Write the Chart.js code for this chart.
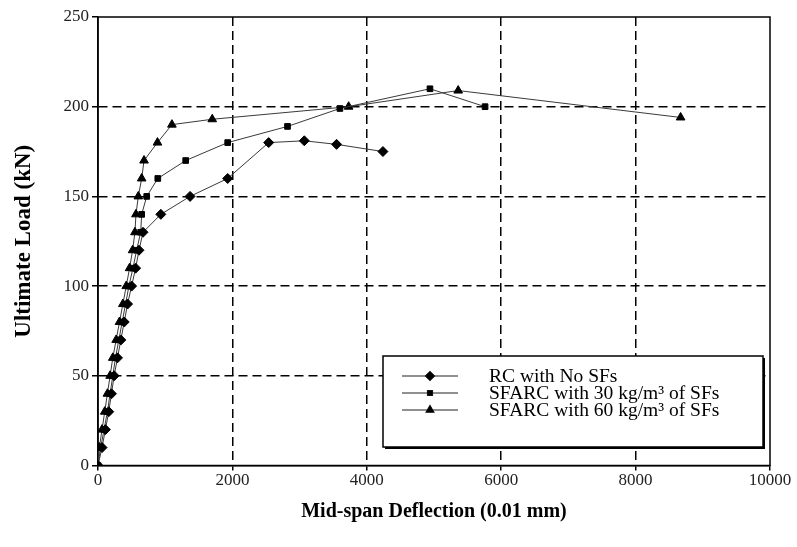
<!DOCTYPE html>
<html>
<head>
<meta charset="utf-8">
<script src="https://cdn.jsdelivr.net/npm/chart.js@4.4.1/dist/chart.umd.min.js"></script>
<style>
  html, body { margin: 0; padding: 0; background: #fff; }
  #wrap { width: 797px; height: 547px; }
</style>
</head>
<body>
<div id="wrap"><canvas id="chart" width="797" height="547"></canvas></div>
<script>
// ── Data (deflection in 0.01 mm, load in kN) ──────────────────────
const seriesNames = [
    'RC with No SFs',
    'SFARC with 30 kg/m³ of SFs',
    'SFARC with 60 kg/m³ of SFs'
];
const rcDefl = [0, 60, 110, 160, 200, 240, 290, 340, 390, 440, 500, 560, 610, 670, 935, 1370, 1930, 2540, 3070, 3550, 4240];
const rcLoad = [0, 10, 20, 30, 40, 50, 60, 70, 80, 90, 100, 110, 120, 130, 140, 150, 160, 180, 181, 179, 175];
const sf30Defl = [0, 40, 90, 140, 180, 220, 260, 310, 360, 410, 460, 520, 575, 635, 650, 725, 890, 1305, 1930, 2820, 3600, 4940, 5760];
const sf30Load = [0, 10, 20, 30, 40, 50, 60, 70, 80, 90, 100, 110, 120, 130, 140, 150, 160, 170, 180, 189, 199, 210, 200];
const sf60Defl = [0, 20, 60, 100, 140, 180, 220, 270, 320, 370, 420, 470, 515, 550, 565, 600, 650, 685, 885, 1100, 1700, 3730, 5360, 8670];
const sf60Load = [0, 10, 20, 30, 40, 50, 60, 70, 80, 90, 100, 110, 120, 130, 140, 150, 160, 170, 180, 190, 193, 200, 209, 194];
const xTicks = [0, 2000, 4000, 6000, 8000, 10000];
const yTicks = [0, 50, 100, 150, 200, 250];
const markerStyles = ['rectRot', 'rect', 'triangle'];
const markerSizes = [5, 4, 5];

const toPoints = (xs, ys) => xs.map((x, i) => ({ x, y: ys[i] }));
const serif = '"Liberation Serif", "Times New Roman", serif';

const makeSet = (i, xs, ys) => ({
    label: seriesNames[i],
    data: toPoints(xs, ys),
    showLine: true,
    borderColor: '#3a3a3a',
    borderWidth: 1,
    pointStyle: markerStyles[i],
    pointRadius: markerSizes[i],
    pointBackgroundColor: '#000',
    pointBorderColor: '#000',
    pointBorderWidth: 1,
});

// frame + in-plot legend
const framePlugin = {
    id: 'frame',
    beforeDatasetsDraw(chart) {
        const { ctx, chartArea: a } = chart;
        ctx.save();
        ctx.strokeStyle = '#000';
        ctx.lineWidth = 1.5;
        ctx.strokeRect(a.left, a.top, a.right - a.left, a.bottom - a.top);
        ctx.restore();
    },
    afterDraw(chart) {
        const { ctx } = chart;
        const bx = 383, by = 356, bw = 380, bh = 91;
        ctx.save();
        ctx.fillStyle = '#fff';
        ctx.fillRect(bx, by, bw, bh);
        ctx.strokeStyle = '#000';
        ctx.lineWidth = 1.5;
        ctx.strokeRect(bx, by, bw, bh);
        ctx.lineWidth = 2;
        ctx.beginPath();
        ctx.moveTo(bx + bw + 1, by + 2);
        ctx.lineTo(bx + bw + 1, by + bh + 1);
        ctx.lineTo(bx + 2, by + bh + 1);
        ctx.stroke();
        ctx.font = '19.5px ' + serif;
        ctx.textBaseline = 'middle';
        seriesNames.forEach((name, i) => {
            const yy = by + 20 + i * 17;
            ctx.strokeStyle = '#222';
            ctx.lineWidth = 1.2;
            ctx.beginPath();
            ctx.moveTo(402, yy);
            ctx.lineTo(458, yy);
            ctx.stroke();
            ctx.fillStyle = '#000';
            Chart.helpers.drawPoint(ctx, { pointStyle: markerStyles[i], radius: markerSizes[i] - 0.5, borderWidth: 1 }, 430, yy);
            ctx.fill();
            ctx.fillText(name, 489, yy + 1);
        });
        ctx.restore();
    }
};

const gridColor = (c) => {
    const v = c.tick ? c.tick.value : null;
    return (v === 0 || v === 250 || v === 10000) ? 'rgba(0,0,0,0)' : '#000';
};

new Chart(document.getElementById('chart'), {
    type: 'scatter',
    data: {
        datasets: [
            makeSet(0, rcDefl, rcLoad),
            makeSet(1, sf30Defl, sf30Load),
            makeSet(2, sf60Defl, sf60Load),
        ]
    },
    options: {
        responsive: false,
        animation: false,
        layout: { padding: { top: 17, right: 27, left: 0, bottom: 0 } },
        plugins: { legend: { display: false }, tooltip: { enabled: false } },
        scales: {
            x: {
                type: 'linear', min: 0, max: 10000,
                afterBuildTicks: (s) => { s.ticks = xTicks.map(v => ({ value: v })); },
                afterFit: (s) => { s.height = 81.5; },
                grid: { color: gridColor, lineWidth: 1.5, tickColor: '#000', tickLength: 5, tickWidth: 1.5 },
                border: { display: true, color: '#000', width: 1.5, dash: [9, 5] },
                ticks: { color: '#222', font: { family: serif, size: 17 }, padding: 0, maxRotation: 0, callback: (v) => String(v) },
                title: {
                    display: true, text: 'Mid-span Deflection (0.01 mm)', color: '#000',
                    font: { family: serif, size: 20, weight: 'bold' }, padding: { top: 4, bottom: 23 }
                }
            },
            y: {
                type: 'linear', min: 0, max: 250,
                afterBuildTicks: (s) => { s.ticks = yTicks.map(v => ({ value: v })); },
                afterFit: (s) => { s.width = 98; },
                grid: { color: gridColor, lineWidth: 1.5, tickColor: '#000', tickLength: 6, tickWidth: 1.5 },
                border: { display: true, color: '#000', width: 1.5, dash: [9, 5] },
                ticks: { color: '#222', font: { family: serif, size: 17 }, padding: 3, callback: (v) => String(v) },
                title: {
                    display: true, text: 'Ultimate Load (kN)', color: '#000',
                    font: { family: serif, size: 23, weight: 'bold' }, padding: { top: 10, bottom: 10 }
                }
            }
        }
    },
    plugins: [framePlugin]
});
</script>
</body>
</html>
